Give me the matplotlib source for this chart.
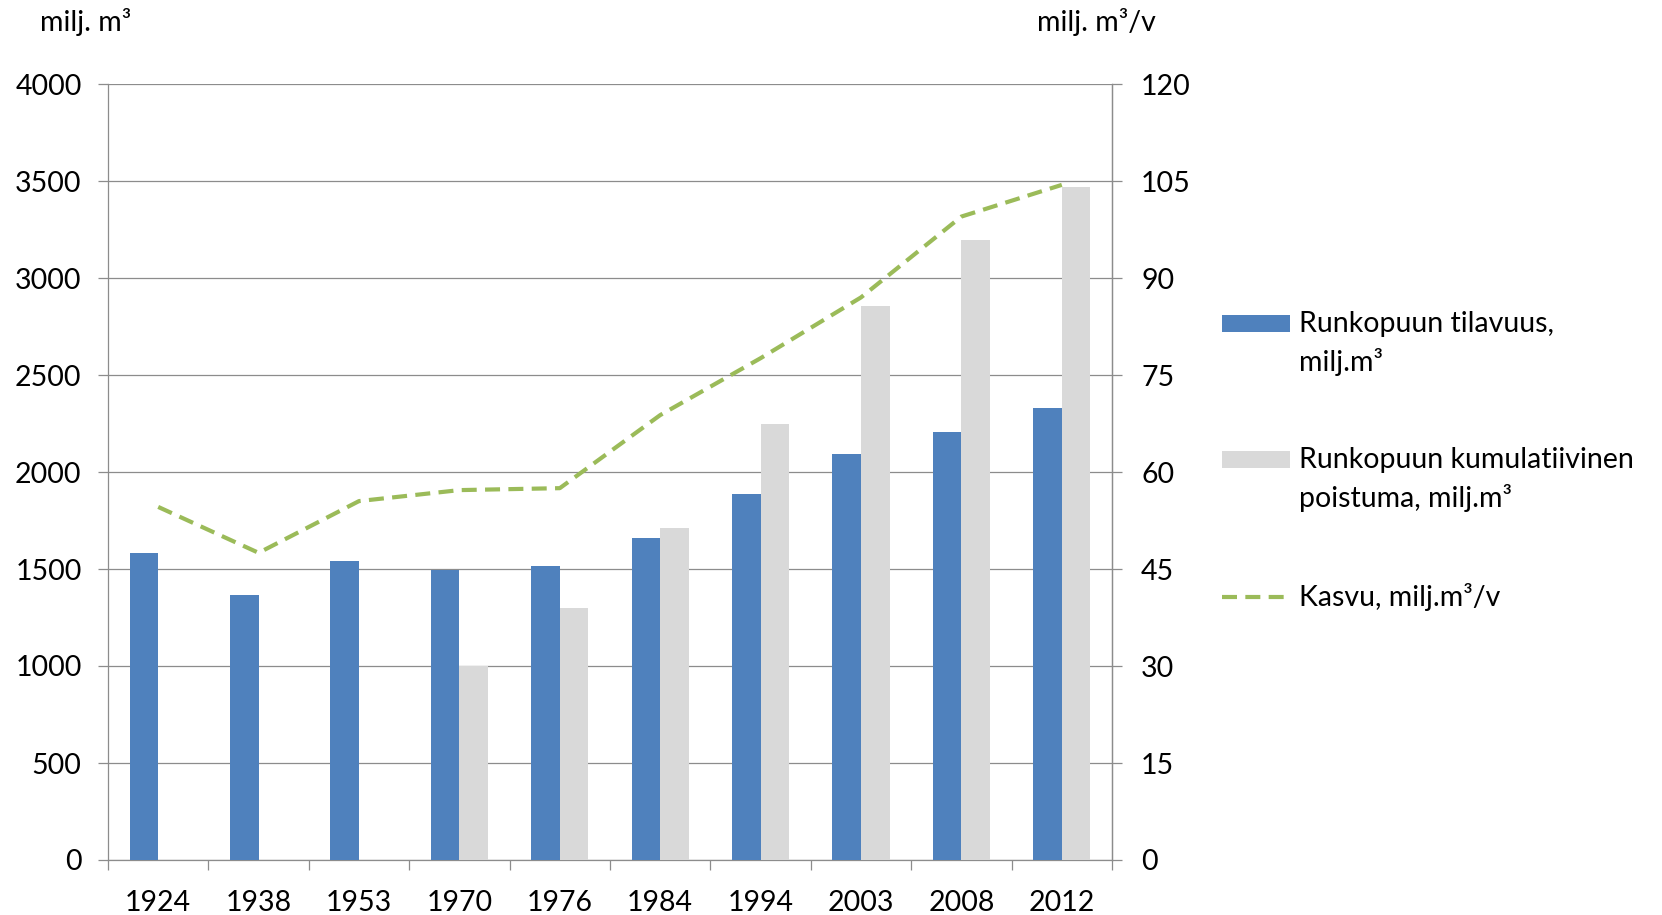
import numpy as np
import matplotlib
matplotlib.use("Agg")
import matplotlib.pyplot as plt
from matplotlib.patches import Patch, Rectangle
from matplotlib.lines import Line2D
from matplotlib.legend_handler import HandlerPatch

plt.rcParams['font.family'] = ['Lato', 'DejaVu Sans']

years = ["1924", "1938", "1953", "1970", "1976", "1984", "1994", "2003", "2008", "2012"]
tilavuus = [1585, 1367, 1539, 1493, 1518, 1658, 1888, 2095, 2207, 2331]
poistuma = [np.nan, np.nan, np.nan, 1000, 1297, 1709, 2247, 2854, 3195, 3467]
kasvu = [54.6, 47.5, 55.5, 57.2, 57.5, 68.8, 77.6, 87.0, 99.5, 104.4]

left_ticks = [0, 500, 1000, 1500, 2000, 2500, 3000, 3500, 4000]
right_ticks = [0, 15, 30, 45, 60, 75, 90, 105, 120]

label_tilavuus = "Runkopuun tilavuus,\nmilj.m³"
label_poistuma = "Runkopuun kumulatiivinen\npoistuma, milj.m³"
label_kasvu = "Kasvu, milj.m³/v"

BLUE = "#4F81BD"
GREY = "#D9D9D9"
GREEN = "#9BBB59"
AXIS = "#8C8C8C"
FS = 20.5
LINE_SPACING = 1.47

W, H = 1662, 915
fig = plt.figure(figsize=(W / 100, H / 100), dpi=100)
ax = fig.add_axes([108 / W, 1 - 860 / H, (1112 - 108) / W, (860 - 84) / H])

x = np.arange(len(years))
bw = 0.284
ax.bar(x - bw / 2, tilavuus, width=bw, color=BLUE, zorder=3)
ax.bar(x + bw / 2, poistuma, width=bw, color=GREY, zorder=3)

ax.set_xlim(-0.5, len(years) - 0.5)
ax.set_ylim(0, 4000)
ax.set_yticks(left_ticks)
ax.set_yticklabels([str(v) for v in left_ticks])
ax.yaxis.grid(True, color=AXIS, linewidth=0.9, zorder=0)
ax.set_axisbelow(True)

ax.set_xticks(x)
ax.set_xticklabels(years)
ax.set_xticks(np.arange(-0.5, len(years)), minor=True)
ax.tick_params(axis='x', which='major', length=0, pad=21.5, labelsize=FS)
ax.tick_params(axis='x', which='minor', length=7, width=0.9, color=AXIS, direction='out')
ax.tick_params(axis='y', length=7, width=0.9, color=AXIS, pad=12, labelsize=FS)

ax.spines['top'].set_visible(False)
for side in ['left', 'bottom', 'right']:
    ax.spines[side].set_color(AXIS)
    ax.spines[side].set_linewidth(0.9)

ax2 = ax.twinx()
ax2.plot(x, kasvu, color=GREEN, linewidth=3.0, linestyle=(0, (3.6, 2.0)), zorder=4)
ax2.set_ylim(0, 120)
ax2.set_yticks(right_ticks)
ax2.set_yticklabels([str(v) for v in right_ticks])
ax2.tick_params(axis='y', length=7, width=0.9, color=AXIS, pad=14, labelsize=FS)
for side in ['top', 'left', 'bottom']:
    ax2.spines[side].set_visible(False)
ax2.spines['right'].set_color(AXIS)
ax2.spines['right'].set_linewidth(0.9)

fig.text(40 / W, 1 - 22 / H, "milj. m³", fontsize=FS, ha='left', va='center')
fig.text(1037 / W, 1 - 22 / H, "milj. m³/v", fontsize=FS, ha='left', va='center')

# Patch swatches sit beside the first line of a two-line label
first_line_shift = 0.5 * LINE_SPACING * FS * 0.98


def swatch_on_first_line(legend, orig_handle, xdescent, ydescent, width, height, fontsize):
    return Rectangle((-xdescent, -ydescent + first_line_shift), width, height)


swatch = HandlerPatch(patch_func=swatch_on_first_line)

h_blue = Patch(facecolor=BLUE, edgecolor='none')
h_grey = Patch(facecolor=GREY, edgecolor='none')
h_line = Line2D([], [], color=GREEN, linewidth=3.0, linestyle=(0, (3.6, 2.0)))
leg = fig.legend([h_blue, h_grey, h_line], [label_tilavuus, label_poistuma, label_kasvu],
                 loc='upper left', bbox_to_anchor=(1222 / W, 1 - 311 / H),
                 frameon=False, fontsize=FS, borderpad=0, borderaxespad=0,
                 handlelength=2.4, handleheight=0.52, handletextpad=0.3,
                 labelspacing=2.5,
                 handler_map={h_blue: swatch, h_grey: swatch})
for t in leg.get_texts():
    t.set_linespacing(LINE_SPACING)

fig.savefig("out.png", dpi=100)
